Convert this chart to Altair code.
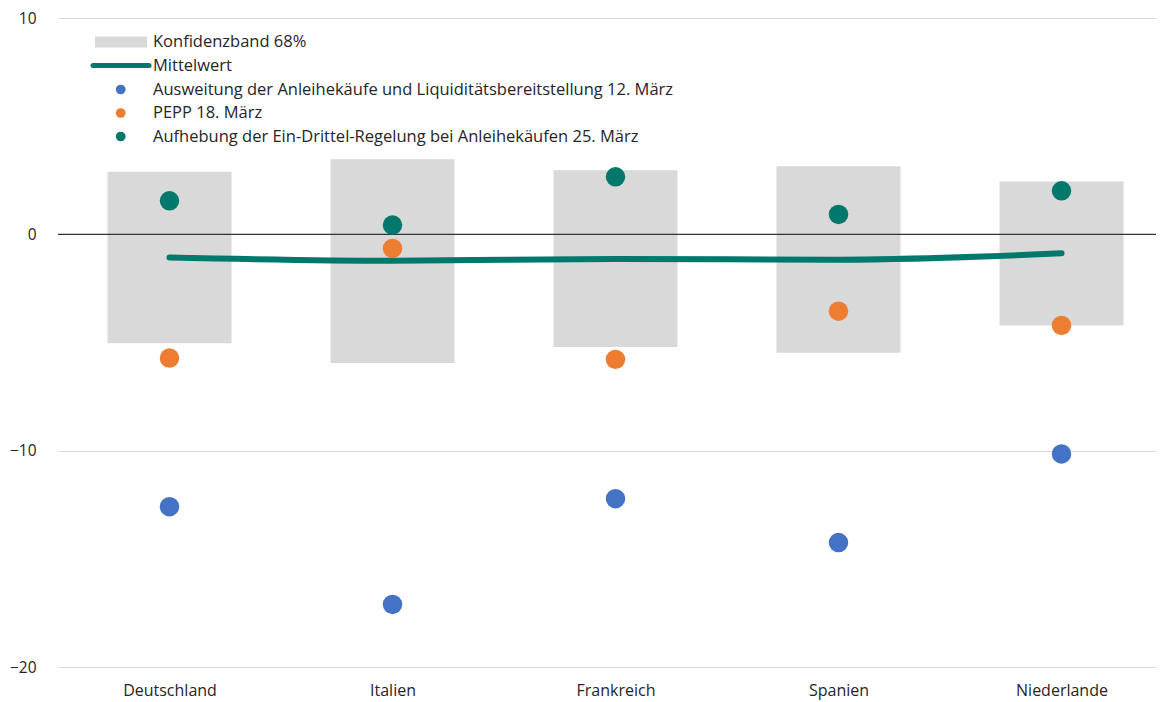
import json
import altair as alt
import pandas as pd

# ---------------- data ----------------
countries = ["Deutschland", "Italien", "Frankreich", "Spanien", "Niederlande"]
band_upper = [2.89, 3.47, 2.96, 3.15, 2.44]
band_lower = [-5.03, -5.95, -5.21, -5.47, -4.21]
mean_values = [-1.07, -1.22, -1.14, -1.17, -0.88]

series_names = [
    "Ausweitung der Anleihekäufe und Liquiditätsbereitstellung 12. März",
    "PEPP 18. März",
    "Aufhebung der Ein-Drittel-Regelung bei Anleihekäufen 25. März",
]
asset_purchase_12 = [-12.59, -17.11, -12.22, -14.25, -10.15]
pepp_18 = [-5.72, -0.65, -5.78, -3.55, -4.21]
one_third_25 = [1.55, 0.43, 2.66, 0.92, 2.01]

band_label = "Konfidenzband 68%"
mean_label = "Mittelwert"
y_ticks = [-20, -10, 0, 10]

# ---------------- styling ----------------
FONT = "Open Sans"
TEXT = "#262626"
GREY = "#d9d9d9"
BLUE = "#4472c4"
ORANGE = "#ed7d31"
GREEN = "#00786b"
series_colors = [BLUE, ORANGE, GREEN]
W, H = 1098, 649
STEP = 223.0  # pixel width of one category slot

band_df = pd.DataFrame({"country": countries, "lo": band_lower, "hi": band_upper})
mean_df = pd.DataFrame({"country": countries, "mean": mean_values})
pts = []
for name, vals in zip(series_names, [asset_purchase_12, pepp_18, one_third_25]):
    for c, v in zip(countries, vals):
        pts.append({"country": c, "series": name, "value": v})
pts_df = pd.DataFrame(pts)

idx_expr = "indexof(" + json.dumps(countries) + ", datum.country)"
label_expr = json.dumps(countries) + "[datum.value]"

xscale = alt.Scale(domain=[-0.5, -0.5 + W / STEP], nice=False, zero=False, padding=0)
yscale = alt.Scale(domain=[-20, 10], nice=False, zero=False, padding=0)

x_axis = alt.Axis(title=None, values=list(range(len(countries))), labelExpr=label_expr,
                  labelAngle=0, ticks=False, domain=False, grid=False,
                  labelFont=FONT, labelFontSize=16, labelColor=TEXT, labelPadding=15)
y_axis = alt.Axis(title=None, values=y_ticks, ticks=False, domain=False, grid=True,
                  gridColor=GREY, gridWidth=1, labelFont=FONT, labelFontSize=15.5,
                  labelColor=TEXT, labelPadding=22)


def X():
    return alt.X("idx:Q", scale=xscale, axis=x_axis)


bars = alt.Chart(band_df).transform_calculate(idx=idx_expr).mark_bar(width=124, color=GREY).encode(
    x=X(),
    y=alt.Y("lo:Q", scale=yscale, axis=y_axis),
    y2="hi:Q",
)

zero = alt.Chart(pd.DataFrame({"z": [0]})).mark_rule(color="#333333", strokeWidth=1.2).encode(
    y=alt.Y("z:Q", scale=yscale, axis=y_axis)
)

mean_line = alt.Chart(mean_df).transform_calculate(idx=idx_expr).mark_line(
    color=GREEN, strokeWidth=6, strokeCap="round", interpolate="monotone"
).encode(
    x=X(),
    y=alt.Y("mean:Q", scale=yscale, axis=y_axis),
)

dots = alt.Chart(pts_df).transform_calculate(idx=idx_expr).mark_circle(size=380, opacity=1).encode(
    x=X(),
    y=alt.Y("value:Q", scale=yscale, axis=y_axis),
    color=alt.Color("series:N", scale=alt.Scale(domain=series_names, range=series_colors), legend=None),
)

# ---------------- manual legend (inside plot, top-left) ----------------
legend_layers = []
leg_text_x = 95
leg_rows_y = [24, 48, 71.5, 95, 118.5]
leg_labels = [band_label, mean_label] + series_names
for lab, yy in zip(leg_labels, leg_rows_y):
    legend_layers.append(
        alt.Chart(pd.DataFrame({"label": [lab]})).mark_text(
            align="left", baseline="middle", font=FONT, fontSize=16.5, color=TEXT
        ).encode(x=alt.value(leg_text_x), y=alt.value(yy), text="label:N")
    )

legend_layers.append(
    alt.Chart(pd.DataFrame({"k": [band_label]})).mark_rect(color=GREY).encode(
        x=alt.value(37), x2=alt.value(89), y=alt.value(18.5), y2=alt.value(29.5)
    )
)
legend_layers.append(
    alt.Chart(pd.DataFrame({"k": [mean_label]})).mark_rule(
        color=GREEN, strokeWidth=5, strokeCap="round"
    ).encode(x=alt.value(35), x2=alt.value(91), y=alt.value(47.5))
)
for col, yy in zip(series_colors, leg_rows_y[2:]):
    legend_layers.append(
        alt.Chart(pd.DataFrame({"k": [col]})).mark_circle(size=95, opacity=1, color=col).encode(
            x=alt.value(62.7), y=alt.value(yy)
        )
    )

chart = alt.layer(bars, zero, mean_line, dots, *legend_layers).properties(
    width=W,
    height=H,
    background="white",
    autosize=alt.AutoSizeParams(type="none"),
    padding={"left": 50, "top": 10, "right": 0, "bottom": 34},
).configure_view(stroke=None)

chart.save("out.html", embed_options={"renderer": "svg", "actions": False})
